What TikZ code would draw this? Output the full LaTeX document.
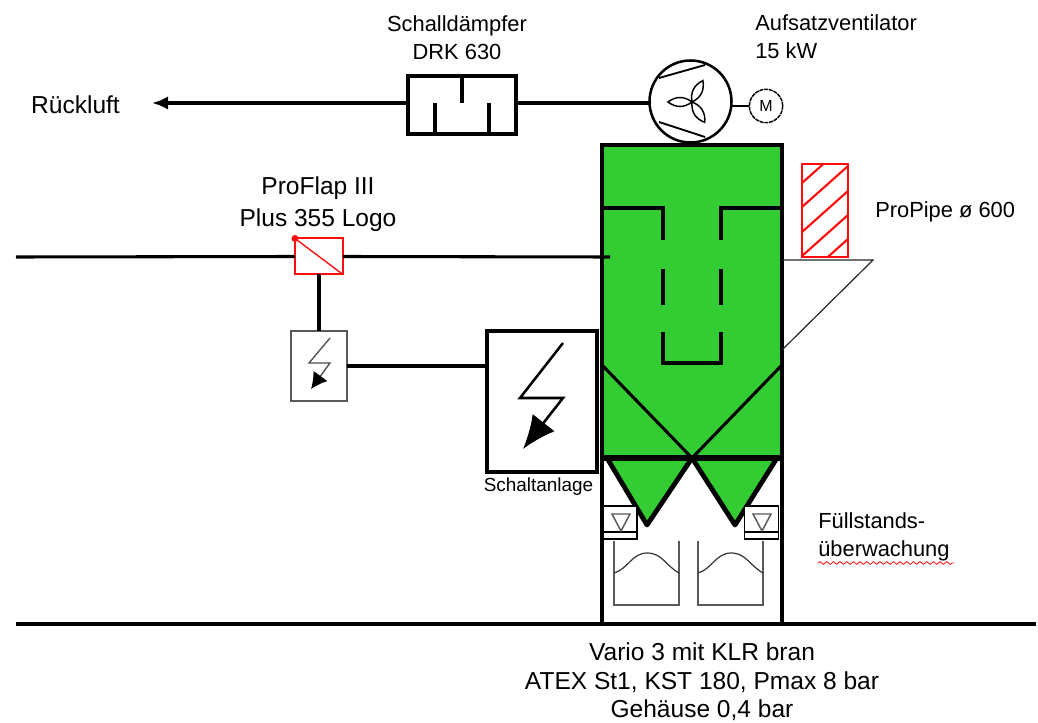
\documentclass[tikz,border=0pt]{standalone}
\usepackage{fontspec}
\setmainfont{Liberation Sans}
\usepackage{tikz}
\usetikzlibrary{positioning}
\usetikzlibrary{arrows.meta}
\usetikzlibrary{decorations.pathmorphing}
\definecolor{gruen}{rgb}{0.2,0.8,0.2}
\definecolor{rot}{rgb}{1,0.05,0.05}

\begin{document}
\begin{tikzpicture}[x=0.75pt,y=-0.75pt,
				bau/.style = {draw, inner sep=0, outer sep=0, line width=2.3pt},
				duenn/.style = {line width=0.9pt},
				rohr/.style = {line width=2.3pt},
				grau/.style = {draw=black!65, line width=1.8pt},
				txt/.style = {inner sep=0, align=center, font=\fontsize{16.4}{21}\selectfont},
				gross/.style = {inner sep=0, align=center, font=\fontsize{18.4}{21.5}\selectfont},
				klein/.style = {inner sep=0, font=\fontsize{14.2}{16}\selectfont},
				sensor/.style = {draw, inner sep=0, outer sep=0, line width=1.3pt,
					minimum width=25.5pt, minimum height=25pt}]
				\useasboundingbox (0,0) rectangle (1038,723);
				
				% Behaelter
				\node[bau, fill=gruen, minimum width=135pt, minimum height=234.75pt] (filter) at (692,301.5) {};
				\draw[rohr] (602,208) -- (663,208) -- (663,240);
				\draw[rohr] (782,208) -- (721,208) -- (721,240);
				\draw[rohr] (663,269) -- (663,305);
				\draw[rohr] (721,269) -- (721,305);
				\draw[rohr] (663,332) -- (663,363) -- (721,363) -- (721,332);
				\draw[rohr] (602,365) -- (692,458) -- (782,365);
				
				% Unterteil
				\draw[rohr] (602,458) -- (602,624);
				\draw[rohr] (782,458) -- (782,624);
				\draw[fill=gruen, line width=3.6pt, line join=round] (607,458) -- (647,525) -- (692,458) -- (735,525) -- (777,458);
				\draw[line width=5pt] (602,458) -- (782,458);
				
				% Fuellstand
				\node[sensor, fill=white] (sensorA) at (620,522.5) {};
				\node[sensor, fill=white] (sensorB) at (761.5,522.5) {};
				\draw[duenn] (603,532) -- (637,532);
				\draw[duenn] (744,532) -- (779,532);
				\draw[grau, line width=1.1pt] (612,514) -- (630,514) -- (621,531) -- cycle;
				\draw[grau, line width=1.1pt] (753,514) -- (771,514) -- (762,531) -- cycle;
				
				% Austrag
				\foreach \xa/\xb in {614/679, 698/763} {
					\draw[grau] (\xa,541) -- (\xa,605) -- (\xb,605) -- (\xb,541);
					\draw[duenn, black!80] (\xa,573) .. controls (\xa+14,569) and (\xa+18,553) .. (\xa+33,553) .. controls (\xa+48,553) and (\xb-14,565) .. (\xb,573);
				}
				
				% Boden
				\coordinate (bodenL) at (16,624);
				\coordinate (bodenR) at (1036,624);
				\draw[line width=2.8pt] (bodenL) -- (bodenR);
				
				% Ventilator
				\node[bau, circle, line width=1.9pt, minimum size=61.5pt] (fan) at (690.5,101.5) {};
				\node[circle, draw, inner sep=0, outer sep=0, line width=1.1pt, dash pattern=on 3pt off 0.6pt, minimum size=25pt, font=\fontsize{12}{13}\selectfont] (motor) at (766,106) {M};
				\draw[duenn] (732,106) -- (motor.west);
				\draw[line width=1.4pt] (659,78) -- (705,65);
				\draw[line width=1.4pt] (659,122) -- (705,137);
				\foreach \w in {63,180,-58} {
					\draw[line width=1.1pt, shift={(692,102)}, rotate=\w] (0,0) .. controls (8,6) and (16,6) .. (24,0) .. controls (16,-6) and (8,-6) .. (0,0);
				}
				
				% Schalldaempfer
				\node[bau, minimum width=81pt, minimum height=43.5pt] (daempfer) at (462,105) {};
				\draw[rohr] (462,76) -- (462,103);
				\draw[rohr] (435,134) -- (435,103);
				\draw[rohr] (489,134) -- (489,103);
				\coordinate (ausgang) at (152,103);
				\draw[rohr, -{Latex[length=12pt,width=10pt]}] (daempfer.west |- 0,103) -- (ausgang);
				\draw[rohr] (fan.west |- 0,103) -- (daempfer.east |- 0,103);
				
				% Klappe
				\node[draw=rot, inner sep=0, outer sep=0, line width=1.5pt, minimum width=36pt, minimum height=27pt] (klappe) at (319,256.5) {};
				\draw[rot, line width=1pt] (klappe.north west) -- (klappe.south east);
				\fill[rot] (klappe.north west) circle (3.5);
				\coordinate (leitungL) at (16,257);
				\coordinate (leitungR) at (610,257);
				\draw[rohr] (leitungL) -- (klappe.west);
				\draw[rohr] (klappe.east) -- (leitungR);
				
				% Steuerung
				\node[grau, inner sep=0, outer sep=0, minimum width=42pt, minimum height=52.5pt] (steuerung) at (319,366) {};
				\node[bau, minimum width=82.5pt, minimum height=105.75pt] (schalt) at (542,401.5) {};
				\draw[rohr] (klappe.south) -- (steuerung.north);
				\draw[rohr] (steuerung.east) -- (steuerung.east -| schalt.west);
				\draw[black!70, line width=1pt, -{Latex[length=12pt,width=13pt,black]}] (330,338) -- (309,363) -- (330,363) -- (311,389);
				\draw[line width=1.9pt, -{Latex[length=25pt,width=21pt]}] (563,343) -- (520,398) -- (563,398) -- (523,449);
				
				% ProPipe
				\begin{scope}
					\clip (802,164) rectangle (848,257);
					\foreach \y in {183,207,232,256,280} {
						\draw[rot, line width=1.6pt] (802,\y) -- (848,\y-41);
					}
				\end{scope}
				\draw[rot, line width=1.8pt] (802,164) rectangle (848,257);
				\coordinate (konsoleA) at (782,260);
				\coordinate (konsoleB) at (873,260);
				\coordinate (konsoleC) at (782,350);
				\draw[duenn, black!85] (konsoleA) -- (konsoleB) -- (konsoleC);
				
				% Texte
				\node[gross] (ruecklufttext) at (75.5,105) {Rückluft};
				\node[txt] (daempfertext) at (457,37.5) {Schalldämpfer\\DRK 630};
				\node[txt, align=left, anchor=west] (fantext) at (755,37) {Aufsatzventilator\\15 kW};
				\node[gross, font=\fontsize{18.4}{23.5}\selectfont] (klappetext) at (318,204) {ProFlap III\\Plus 355 Logo};
				\node[txt, anchor=west] (pipetext) at (875,212) {ProPipe ø 600};
				\node[klein] (schalttext) at (538.5,487) {Schaltanlage};
				\node[txt, align=left, anchor=west] (fuelltext) at (818,537) {Füllstands-\\überwachung};
				\node[gross] (variotext) at (702,682) {Vario 3 mit KLR bran\\ATEX St1, KST 180, Pmax 8 bar\\Gehäuse 0,4 bar};
				\draw[rot, line width=0.6pt, decorate, decoration={snake, amplitude=1pt, segment length=5pt}] (818,563) -- (954,563);
				
		\end{tikzpicture}
\end{document}
